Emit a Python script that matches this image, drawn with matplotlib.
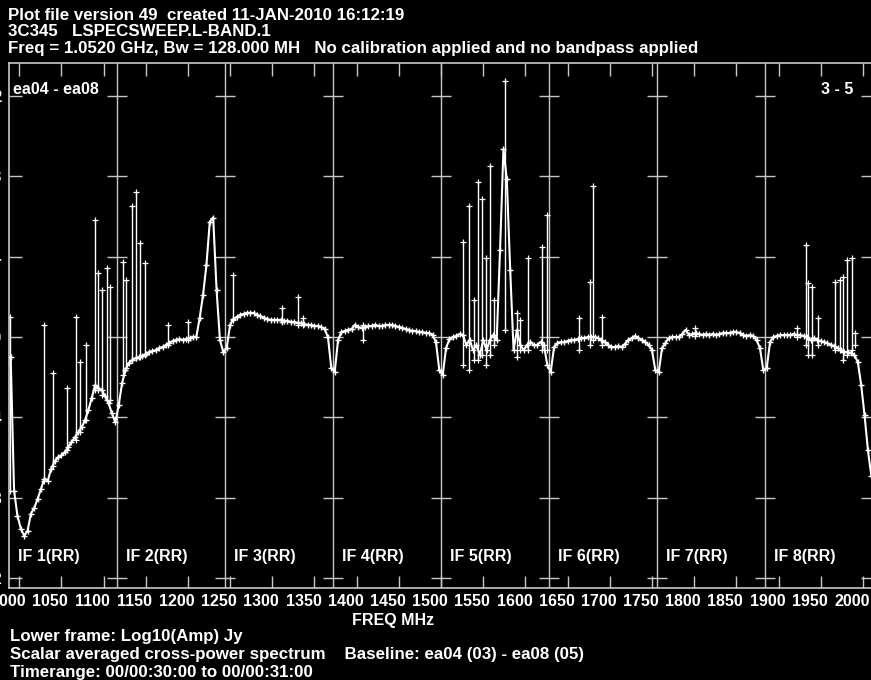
import numpy as np
import matplotlib
matplotlib.use("Agg")
import matplotlib.pyplot as plt
import matplotlib.transforms as mtransforms

plt.rcParams['font.family'] = ['Liberation Sans', 'DejaVu Sans']
plt.rcParams['font.weight'] = 'bold'

# IF layout (MHz)
if_start = 988.0
if_bw = 128.0
n_if = 8
chan_step = 4.0          # one reading every 4 MHz across each IF
if_labels = ["IF 1(RR)", "IF 2(RR)", "IF 3(RR)", "IF 4(RR)",
             "IF 5(RR)", "IF 6(RR)", "IF 7(RR)", "IF 8(RR)"]

# Log10(Amp), 32 readings per IF
if1 = [-0.10, -0.765, -0.89, -0.955, -0.99, -0.965, -0.88, -0.85, -0.805, -0.755, -0.705,
       -0.715, -0.655, -0.62, -0.60, -0.59, -0.575, -0.55, -0.525, -0.50, -0.475, -0.45,
       -0.415, -0.365, -0.305, -0.24, -0.255, -0.265, -0.295, -0.33, -0.38, -0.425]
if2 = [-0.34, -0.23, -0.165, -0.13, -0.115, -0.105, -0.10, -0.095, -0.085, -0.075, -0.07,
       -0.065, -0.055, -0.05, -0.04, -0.03, -0.02, -0.015, -0.01, -0.015, -0.01, -0.005,
       0.0, 0.0, 0.095, 0.21, 0.36, 0.575, 0.595, 0.235, -0.015, -0.075]
if3 = [-0.055, 0.06, 0.09, 0.10, 0.11, 0.115, 0.12, 0.12, 0.12, 0.11, 0.105, 0.095, 0.09,
       0.085, 0.085, 0.085, 0.085, 0.08, 0.08, 0.075, 0.075, 0.07, 0.07, 0.065, 0.06, 0.06,
       0.055, 0.055, 0.05, 0.04, 0.0, -0.155]
if4 = [-0.175, -0.015, 0.025, 0.03, 0.035, 0.04, 0.06, 0.05, 0.045, 0.05, 0.055, 0.055,
       0.06, 0.055, 0.055, 0.06, 0.06, 0.06, 0.055, 0.05, 0.045, 0.04, 0.035, 0.03, 0.03,
       0.025, 0.025, 0.02, 0.02, 0.01, -0.025, -0.165]
if5 = [-0.19, -0.055, -0.01, 0.0, 0.005, 0.015, 0.01, -0.04, -0.015, -0.065, -0.04, -0.09,
       -0.015, -0.065, -0.015, 0.01, -0.015, 0.435, 0.935, 0.785, 0.335, -0.065, 0.035,
       -0.04, -0.065, -0.04, -0.025, -0.04, -0.04, -0.025, -0.04, -0.14]
if6 = [-0.175, -0.05, -0.03, -0.025, -0.025, -0.02, -0.015, -0.015, -0.01, -0.005, -0.005,
       0.0, 0.0, 0.0, -0.005, -0.015, -0.025, -0.04, -0.05, -0.05, -0.045, -0.05, -0.035,
       -0.015, -0.005, 0.005, -0.005, -0.015, -0.025, -0.04, -0.065, -0.165]
if7 = [-0.175, -0.055, -0.03, -0.005, 0.0, 0.0, 0.0, 0.015, 0.035, 0.01, 0.015, 0.02, 0.015,
       0.01, 0.015, 0.01, 0.015, 0.01, 0.015, 0.02, 0.02, 0.02, 0.025, 0.025, 0.02, 0.01,
       0.005, 0.01, 0.005, -0.015, -0.055, -0.165]
if8 = [-0.155, -0.025, 0.0, 0.005, 0.01, 0.01, 0.01, 0.01, 0.015, 0.01, 0.01, 0.005, 0.0,
       -0.015, -0.005, -0.015, -0.02, -0.025, -0.03, -0.04, -0.045, -0.055, -0.065, -0.075,
       -0.075, -0.08, -0.09, -0.125, -0.24, -0.39, -0.565, -0.69]

# RFI spikes: frequency (MHz), top and bottom of each spike
spike_freq = [989.2, 1029.5, 1040.1, 1056.7, 1067.4, 1072.1, 1079.3, 1089.9, 1093.5, 1098.2,
              1104.1, 1107.7, 1123.1, 1126.7, 1133.8, 1138.5, 1143.3, 1149.2, 1176.4, 1200.1,
              1253.5, 1311.6, 1330.5, 1336.5, 1407.6, 1526.1, 1533.2, 1539.1, 1543.9, 1548.6,
              1553.3, 1558.1, 1562.8, 1575.9, 1590.1, 1593.7, 1603.2, 1619.7, 1625.6, 1663.6,
              1676.6, 1680.2, 1690.8, 1801.0, 1921.9, 1932.6, 1935.0, 1939.7, 1946.8, 1967.0,
              1972.9, 1976.4, 1981.2, 1987.1, 1990.7]
spike_top = [0.10, 0.06, -0.18, -0.255, 0.10, -0.125, -0.04, 0.585, 0.32, 0.235,
             0.345, 0.25, 0.375, 0.285, 0.65, 0.72, 0.47, 0.37, 0.06, 0.075,
             0.31, 0.145, 0.20, 0.095, 0.06, 0.475, 0.65, 0.185, 0.77, 0.685,
             0.395, 0.85, 0.185, 1.275, 0.12, 0.085, 0.395, 0.45, 0.61, 0.095,
             0.275, 0.75, 0.10, 0.045, 0.045, 0.46, 0.27, 0.25, 0.095, 0.275,
             0.285, 0.30, 0.385, 0.395, 0.02]
spike_bot = [-0.765, -0.715, -0.64, -0.565, -0.515, -0.475, -0.415, -0.265, -0.265, -0.29,
             -0.315, -0.315, -0.19, -0.155, -0.115, -0.105, -0.10, -0.09, -0.04, -0.015,
             0.085, 0.075, 0.06, 0.06, -0.015, -0.14, -0.165, -0.115, -0.115, -0.09,
             -0.14, -0.09, -0.04, 0.035, -0.10, -0.065, -0.065, -0.065, -0.065, -0.065,
             -0.04, -0.015, -0.04, 0.005, 0.0, -0.04, -0.09, -0.09, -0.04, -0.065,
             -0.065, -0.115, -0.09, -0.065, -0.04]

freq_ticks = list(range(1000, 2001, 50))
amp_ticks = [-1.2, -0.8, -0.4, 0.0, 0.4, 0.8, 1.2]

header = ["Plot file version 49  created 11-JAN-2010 16:12:19",
          "3C345   LSPECSWEEP.L-BAND.1",
          "Freq = 1.0520 GHz, Bw = 128.000 MH   No calibration applied and no bandpass applied"]
footer = ["Lower frame: Log10(Amp) Jy",
          "Scalar averaged cross-power spectrum    Baseline: ea04 (03) - ea08 (05)",
          "Timerange: 00/00:30:00 to 00/00:31:00"]

# channel frequencies for each IF
amps = [if1, if2, if3, if4, if5, if6, if7, if8]
freqs = []
for i, a in enumerate(amps):
    f0 = if_start + i * if_bw
    freqs.append(f0 + chan_step / 2 + chan_step * np.arange(len(a)))
freq_all = np.concatenate(freqs)
amp_all = np.concatenate([np.array(a) for a in amps])

W, H = 871, 680
fig = plt.figure(figsize=(W / 100, H / 100), dpi=100, facecolor="black")
ax = fig.add_axes([9 / W, 92 / H, 864 / W, 525 / H], facecolor="black")

fsize = 11.5
fsize_txt = 12.2
grey = "#c8c8c8"

# spectrum
ax.plot(freq_all, amp_all, color="white", lw=1.5, marker="+", ms=4.5, mew=1.0, zorder=3)
ax.vlines(spike_freq, spike_bot, spike_top, color="white", lw=1.0, zorder=3)
ax.plot(spike_freq, spike_top, ls="none", color="white", marker="+", ms=4, mew=0.9, zorder=3)
ax.plot(spike_freq, spike_bot, ls="none", color="white", marker="+", ms=4, mew=0.9, zorder=3)

ax.set_xlim(if_start, if_start + n_if * if_bw)
ax.set_ylim(-1.25, 1.3645)

# IF separators with y tick crosses (about 10 px either side)
cross = 10 * if_bw / 108.0
for i in range(1, n_if):
    b = if_start + i * if_bw
    ax.axvline(b, color=grey, lw=1.0, zorder=2)
    ax.hlines(amp_ticks, b - cross, b + cross, color=grey, lw=1.0, zorder=2)

for s in ax.spines.values():
    s.set_color(grey)
    s.set_linewidth(1.2)

ax.set_xticks(freq_ticks)
ax.set_xticklabels([str(f) for f in freq_ticks])
ax.set_yticks(amp_ticks)
ax.set_yticklabels([f"{v:.1f}" for v in amp_ticks])
ax.tick_params(axis="both", direction="in", colors=grey, labelcolor="white",
               length=9, width=1.0, labelsize=fsize)
ax.tick_params(axis="x", top=True, pad=4)
ax.tick_params(axis="y", right=True, pad=5)

offset = mtransforms.ScaledTranslation(-11 / 100, 0, fig.dpi_scale_trans)
for lab in ax.get_xticklabels():
    lab.set_transform(lab.get_transform() + offset)

# IF labels
for i, lab in enumerate(if_labels):
    ax.text(if_start + i * if_bw + 11, -1.095, lab, color="white", fontsize=fsize,
            ha="left", va="center")

ax.text(0.005, 0.95, "ea04 - ea08", transform=ax.transAxes, color="white",
        fontsize=fsize, ha="left", va="center")
ax.text(0.977, 0.95, "3 - 5", transform=ax.transAxes, color="white",
        fontsize=fsize, ha="right", va="center")

fig.text(393 / W, 1 - 620 / H, "FREQ MHz", color="white", fontsize=fsize,
         ha="center", va="center")

for k, line in enumerate(header):
    fig.text(8 / W, 1 - (15 + 16.5 * k) / H, line, color="white", fontsize=fsize_txt,
             ha="left", va="center")
for k, line in enumerate(footer):
    fig.text(10 / W, 1 - (636 + 18 * k) / H, line, color="white", fontsize=fsize_txt,
             ha="left", va="center")

fig.savefig("out.png", dpi=100, facecolor="black")
